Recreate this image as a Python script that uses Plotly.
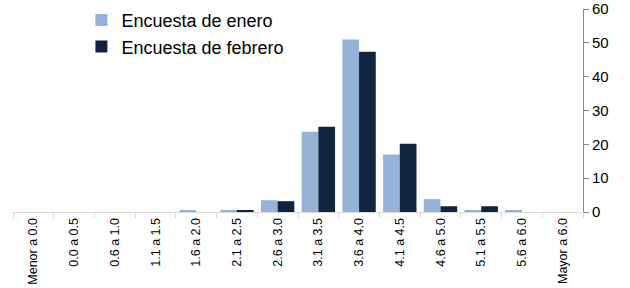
import plotly.graph_objects as go

categories = ["Menor a 0.0", "0.0 a 0.5", "0.6 a 1.0", "1.1 a 1.5", "1.6 a 2.0",
              "2.1 a 2.5", "2.6 a 3.0", "3.1 a 3.5", "3.6 a 4.0", "4.1 a 4.5",
              "4.6 a 5.0", "5.1 a 5.5", "5.6 a 6.0", "Mayor a 6.0"]
enero = [0, 0, 0, 0, 0.4, 0.3, 3.5, 23.7, 51.0, 17.0, 3.8, 0.3, 0.4, 0]
febrero = [0, 0, 0, 0, 0, 0.4, 3.2, 25.2, 47.4, 20.2, 1.7, 1.7, 0, 0]
y_ticks = [0, 10, 20, 30, 40, 50, 60]

fig = go.Figure()
fig.add_trace(go.Bar(x=categories, y=enero, name="Encuesta de enero",
                     marker=dict(color="#95B3D7", line=dict(width=0))))
fig.add_trace(go.Bar(x=categories, y=febrero, name="Encuesta de febrero",
                     marker=dict(color="#10243F", line=dict(width=0))))

fig.update_layout(
    width=630, height=288,
    margin=dict(l=13, r=47, t=9, b=76, autoexpand=False),
    plot_bgcolor="white", paper_bgcolor="white",
    barmode="group", bargap=0.18, bargroupgap=0,
    font=dict(family="Liberation Sans, Arial, sans-serif", color="black"),
    showlegend=True,
    legend=dict(x=0.12, y=1.035, xanchor="left", yanchor="top",
                font=dict(size=18), bgcolor="rgba(0,0,0,0)",
                itemwidth=30, tracegroupgap=0),
)
fig.update_xaxes(
    type="category", tickangle=-90, tickfont=dict(size=12.5),
    showline=True, linecolor="#D9D9D9", linewidth=1,
    ticks="outside", tickcolor="#D9D9D9", ticklen=5,
    tickson="boundaries", showgrid=False, automargin=False,
)
fig.update_yaxes(
    side="right", range=[0, 60], tickvals=y_ticks, tickfont=dict(size=15),
    showline=True, linecolor="#868686", linewidth=1,
    ticks="outside", tickcolor="#868686", ticklen=5,
    showgrid=False, zeroline=False, automargin=False,
    ticklabeloverflow="allow",
)

fig.write_html("out.html", config={"displayModeBar": False},
               post_script="document.body.style.margin='0';document.body.style.overflow='hidden';")
